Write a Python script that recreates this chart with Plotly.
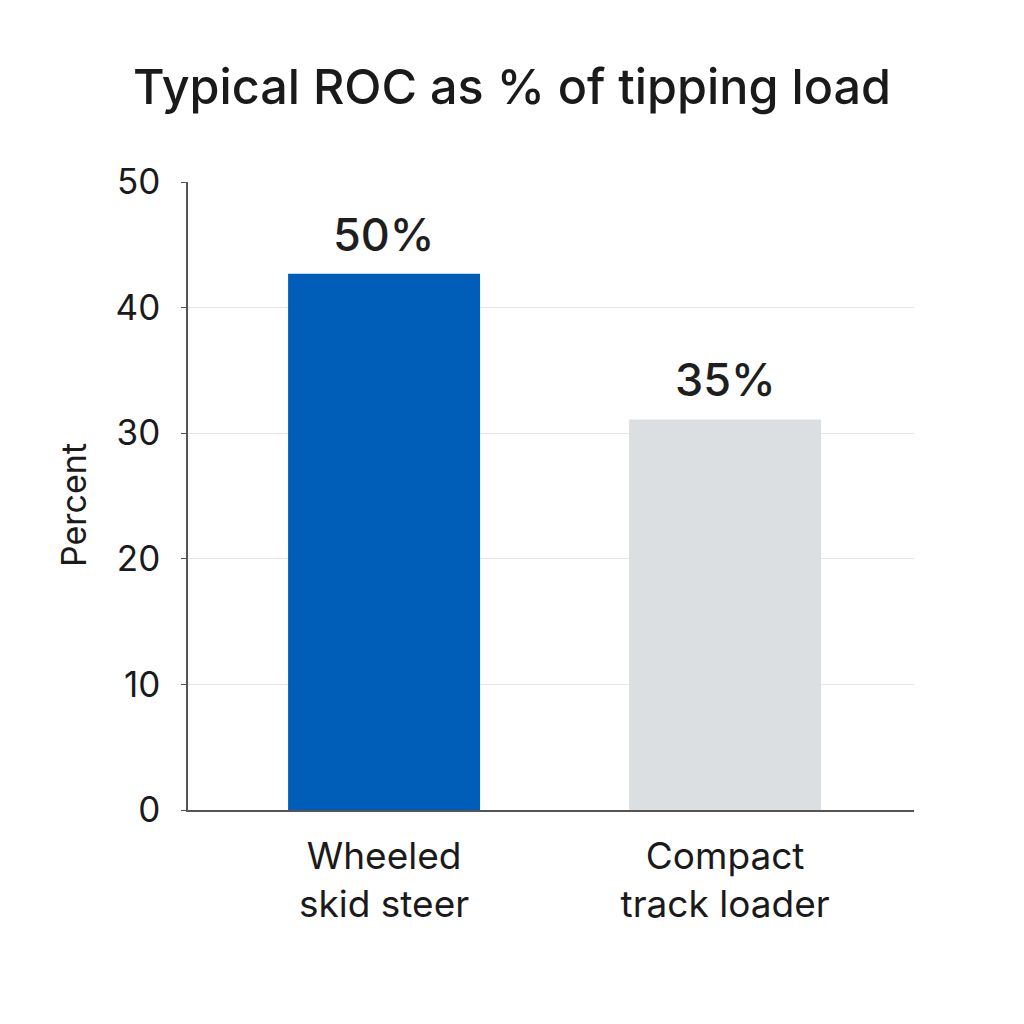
import plotly.graph_objects as go

categories = ["Wheeled<br>skid steer", "Compact<br>track loader"]
bar_values = [42.7, 31.1]
bar_labels = ["50%", "35%"]
bar_colors = ["#005EB8", "#DCDFE1"]
y_ticks = [0, 10, 20, 30, 40, 50]

FONT = "Inter"
fig = go.Figure()
fig.add_trace(go.Bar(
    x=[0, 1], y=bar_values, width=0.563,
    marker=dict(color=bar_colors, line=dict(width=0)),
    hoverinfo="skip",
))
for i, (v, lab) in enumerate(zip(bar_values, bar_labels)):
    fig.add_annotation(x=i, y=v, text=lab, showarrow=False, yanchor="bottom",
                       yshift=10, font=dict(family=FONT, size=45, weight=500, color="#1e1e1e"))

fig.update_layout(
    width=1024, height=1024,
    margin=dict(l=188, r=110, t=182, b=214),
    paper_bgcolor="white", plot_bgcolor="white",
    showlegend=False,
    title=dict(text="Typical ROC as % of tipping load", x=0.5, xanchor="center",
               y=1 - 87 / 1024, yanchor="middle",
               font=dict(family=FONT, size=48.5, weight=500, color="#1a1a1a")),
    xaxis=dict(range=[-0.575, 1.554], tickvals=[0, 1], ticktext=categories,
               showgrid=False, zeroline=False, showline=True, linecolor="#555555",
               linewidth=1.5, ticks="", ticklabelstandoff=13,
               tickfont=dict(family=FONT, size=37, color="#1a1a1a")),
    yaxis=dict(range=[0, 50], tickvals=y_ticks, showgrid=True, gridcolor="#E6E6E6",
               gridwidth=1, zeroline=False, showline=True, linecolor="#555555",
               linewidth=1.5, ticks="outside", ticklen=5, tickcolor="#555555",
               ticklabelstandoff=14,
               tickfont=dict(family=FONT, size=35, color="#1a1a1a")),
)
fig.add_annotation(text="Percent", xref="paper", yref="paper", x=(73 - 188) / 726,
                   y=(810 - 505) / 628, xanchor="center", yanchor="middle", textangle=-90,
                   showarrow=False, font=dict(family=FONT, size=34, color="#1a1a1a"))
fig.write_html("out.html")
